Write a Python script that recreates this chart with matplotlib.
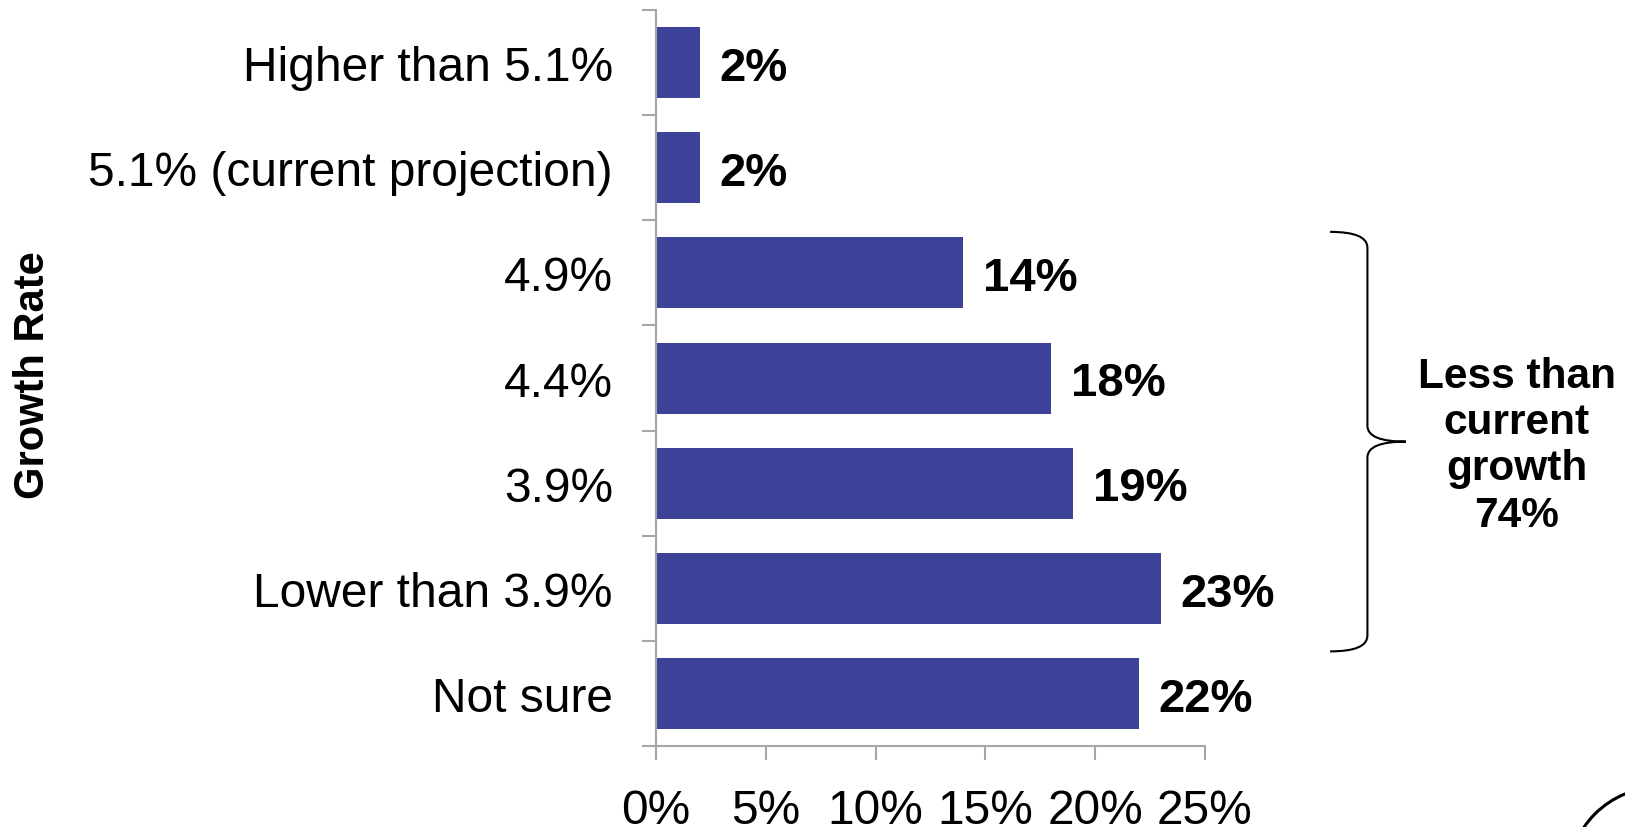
import matplotlib
matplotlib.use('Agg')
import matplotlib.pyplot as plt
from matplotlib.path import Path
from matplotlib.patches import PathPatch, Ellipse

plt.rcParams['font.family'] = ['Liberation Sans', 'DejaVu Sans']

categories = ['Higher than 5.1%', '5.1% (current projection)', '4.9%', '4.4%',
              '3.9%', 'Lower than 3.9%', 'Not sure']
shares = [2, 2, 14, 18, 19, 23, 22]
xticks = [0, 5, 10, 15, 20, 25]
brace_text = 'Less than\ncurrent\ngrowth\n74%'

barColor = '#3D4399'
axisColor = '#A6A6A6'

fig = plt.figure(figsize=(16.25, 8.28), dpi=100)
ax = fig.add_axes([0.4037, 0.0978, 0.3378, 0.8889])

ypos = list(range(len(categories)))
ax.barh(ypos, shares, height=0.675, color=barColor)
ax.set_ylim(len(categories) - 0.5, -0.5)
ax.set_xlim(0, 25)

# value labels
for y, v in zip(ypos, shares):
    ax.text(v + 0.9, y + 0.05, '{0}%'.format(v), va='center', ha='left',
            fontsize=34, fontweight='bold')

# axes styling
for s in ['top', 'right']:
    ax.spines[s].set_visible(False)
for s in ['left', 'bottom']:
    ax.spines[s].set_color(axisColor)
    ax.spines[s].set_linewidth(1.5)

ax.set_yticks(ypos)
ax.set_yticklabels(categories)
ax.set_yticks([y - 0.5 for y in ypos] + [len(categories) - 0.5], minor=True)
ax.tick_params(axis='y', which='major', length=0, pad=31, labelsize=34.5)
ax.tick_params(axis='y', which='minor', length=10, width=1.5, color=axisColor)

ax.set_xticks(xticks)
ax.set_xticklabels(['{0}%'.format(t) for t in xticks])
ax.tick_params(axis='x', length=10, width=1.5, color=axisColor, pad=20, labelsize=34.5)

# brace on the right
x0, x1, x2 = 30.7, 32.4, 34.15
top, bottom = 1.61, 5.6
mid = (top + bottom) / 2
r = 0.15
verts = [(x0, top), (x1, top), (x1, top + r), (x1, mid - r), (x1, mid), (x2, mid),
         (x1, mid), (x1, mid + r), (x1, bottom - r), (x1, bottom), (x0, bottom)]
codes = [Path.MOVETO, Path.CURVE3, Path.CURVE3, Path.LINETO, Path.CURVE3, Path.CURVE3,
         Path.CURVE3, Path.CURVE3, Path.LINETO, Path.CURVE3, Path.CURVE3]
ax.add_patch(PathPatch(Path(verts, codes), fill=False, lw=1.5, color='black',
                       clip_on=False))
ax.text(39.2, 3.64, brace_text, ha='center', va='center', fontsize=30.5,
        fontweight='bold', linespacing=1.2, clip_on=False)

fig.text(0.0203, 1 - 375 / 828, 'Growth Rate', rotation=90, ha='center',
         va='center', fontsize=30, fontweight='bold')

# partial circle at lower right corner
fig.patches.append(Ellipse((1660 / 1625, 1 - 880 / 828), 184 / 1625, 184 / 828,
                           transform=fig.transFigure, fill=False, lw=2.2,
                           color='black'))

fig.savefig('out.png', dpi=100)
